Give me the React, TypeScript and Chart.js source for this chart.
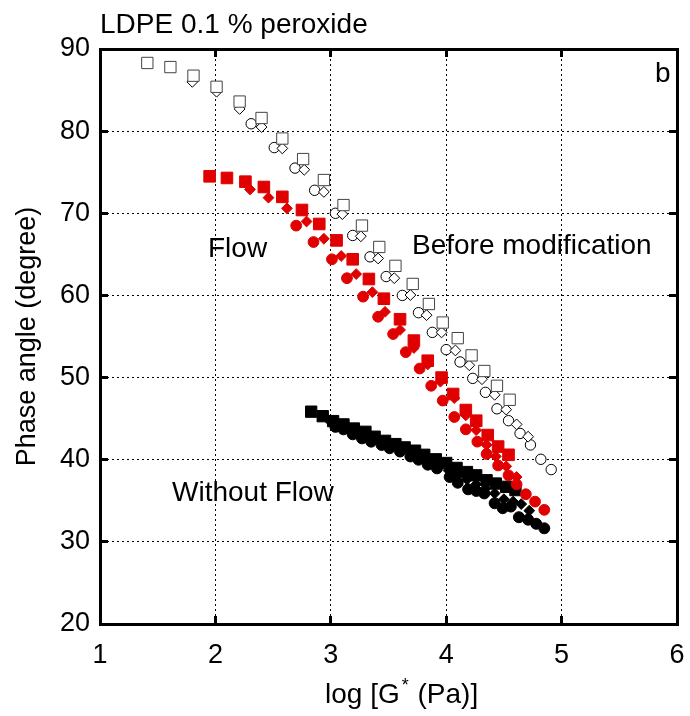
import React, { useEffect, useRef } from "react";
import { Chart, registerables } from "chart.js";

Chart.register(...registerables);

const FONT = "'Liberation Sans', Arial, Helvetica, sans-serif";

// Axis ticks
const xTicks = [1, 2, 3, 4, 5, 6];
const yTicks = [20, 30, 40, 50, 60, 70, 80, 90];

// Before modification (open symbols)
const openSqX = [1.41, 1.61, 1.81, 2.01, 2.21, 2.40, 2.58, 2.76, 2.94, 3.11, 3.27, 3.42, 3.56, 3.71, 3.85, 3.97, 4.10, 4.22, 4.33, 4.44, 4.55];
const openSqY = [88.3, 87.8, 86.75, 85.4, 83.6, 81.6, 79.1, 76.6, 74.05, 71.0, 68.5, 65.9, 63.6, 61.4, 58.96, 56.7, 54.8, 52.7, 50.8, 49.0, 47.3];
const openDiaX = [1.80, 2.01, 2.21, 2.40, 2.58, 2.77, 2.94, 3.10, 3.26, 3.41, 3.55, 3.69, 3.83, 3.96, 4.08, 4.20, 4.31, 4.42, 4.52, 4.61, 4.71];
const openDiaY = [86.0, 84.8, 82.7, 80.5, 77.9, 75.3, 72.6, 69.9, 67.2, 64.5, 62.1, 60.05, 57.6, 55.5, 53.3, 51.5, 49.8, 47.9, 46.1, 44.3, 42.8];
const openCircX = [2.31, 2.51, 2.69, 2.86, 3.04, 3.19, 3.34, 3.48, 3.62, 3.76, 3.88, 4.00, 4.12, 4.23, 4.34, 4.44, 4.54, 4.64, 4.73, 4.82, 4.91];
const openCircY = [80.9, 78.0, 75.5, 72.8, 70.0, 67.3, 64.7, 62.3, 60.0, 57.9, 55.5, 53.4, 51.9, 49.9, 48.2, 46.2, 44.75, 43.2, 41.8, 40.05, 38.8];

// Flow (red symbols)
const redSqX = [1.95, 2.10, 2.26, 2.42, 2.58, 2.75, 2.90, 3.05, 3.19, 3.33, 3.46, 3.60, 3.72, 3.84, 3.96, 4.06, 4.17, 4.26, 4.36, 4.45, 4.54];
const redSqY = [74.5, 74.3, 73.85, 73.2, 72.0, 70.4, 68.7, 66.7, 64.4, 62.0, 59.6, 57.1, 54.5, 52.05, 50.0, 48.0, 46.05, 44.75, 43.0, 41.6, 40.6];
const redDiaX = [2.30, 2.46, 2.62, 2.79, 2.94, 3.09, 3.22, 3.36, 3.47, 3.60, 3.72, 3.84, 3.95, 4.07, 4.17, 4.26, 4.35, 4.43, 4.52, 4.61];
const redDiaY = [72.9, 71.9, 70.6, 69.0, 66.9, 64.8, 62.6, 60.4, 58.0, 55.8, 53.6, 51.6, 49.5, 47.5, 45.4, 43.6, 41.8, 40.4, 39.2, 37.9];
const redCircX = [2.70, 2.85, 3.01, 3.14, 3.28, 3.41, 3.54, 3.65, 3.77, 3.87, 3.97, 4.07, 4.17, 4.27, 4.35, 4.45, 4.54, 4.61, 4.69, 4.77, 4.85];
const redCircY = [68.5, 66.5, 64.4, 62.1, 59.85, 57.4, 55.3, 53.1, 51.1, 49.0, 47.2, 45.2, 43.7, 42.2, 40.7, 39.3, 38.1, 37.0, 35.8, 34.9, 33.9];

// Without flow (black symbols)
const blkSqX = [2.83, 2.93, 3.02, 3.11, 3.20, 3.30, 3.38, 3.47, 3.56, 3.64, 3.73, 3.81, 3.91, 4.00, 4.09, 4.18, 4.26, 4.35, 4.43, 4.52, 4.60];
const blkSqY = [45.85, 45.3, 44.7, 44.3, 43.8, 43.4, 42.8, 42.3, 41.9, 41.5, 41.1, 40.6, 40.05, 39.6, 39.0, 38.5, 38.1, 37.5, 37.1, 36.7, 36.3];
const blkDiaX = [3.00, 3.09, 3.18, 3.27, 3.36, 3.45, 3.54, 3.62, 3.70, 3.78, 3.86, 3.94, 4.02, 4.10, 4.18, 4.26, 4.34, 4.42, 4.50, 4.58, 4.65, 4.72];
const blkDiaY = [44.6, 44.1, 43.6, 43.1, 42.6, 42.1, 41.6, 41.2, 40.7, 40.3, 39.8, 39.3, 38.7, 38.1, 37.6, 37.0, 36.5, 35.9, 35.2, 34.9, 34.6, 33.8];
const blkCircX = [3.04, 3.11, 3.19, 3.27, 3.35, 3.44, 3.51, 3.60, 3.69, 3.76, 3.84, 3.92, 4.03, 4.10, 4.19, 4.26, 4.33, 4.42, 4.49, 4.56, 4.63, 4.71, 4.78, 4.85];
const blkCircY = [44.0, 43.7, 43.1, 42.6, 42.2, 41.8, 41.4, 41.0, 40.4, 40.0, 39.4, 38.95, 37.9, 37.2, 36.4, 36.2, 35.9, 34.7, 34.1, 34.3, 33.0, 32.7, 32.2, 31.65];

const RED = "#e00000";
const TICK_IN = -8;

const pts = (xs: number[], ys: number[]) => xs.map((x, i) => ({ x, y: ys[i] }));

const textPlugin = {
  id: "annotText",
  afterDraw(chart: any) {
    const { ctx } = chart;
    ctx.save();
    ctx.fillStyle = "#000";
    ctx.textBaseline = "alphabetic";
    ctx.textAlign = "left";
    ctx.font = `28px ${FONT}`;
    ctx.fillText("LDPE 0.1 % peroxide", 100, 33);
    ctx.fillText("b", 655, 82);
    ctx.fillText("Flow", 208, 257);
    ctx.fillText("Before modification", 412, 254);
    ctx.fillText("Without Flow", 172, 501);

    // x-axis title with superscript
    let x = 325;
    const base = 703;
    const a = "log [G";
    ctx.fillText(a, x, base);
    x += ctx.measureText(a).width;
    ctx.font = `18px ${FONT}`;
    ctx.fillText("*", x + 2, base - 12);
    x += ctx.measureText("*").width + 3;
    ctx.font = `28px ${FONT}`;
    ctx.fillText(" (Pa)]", x, base);
    ctx.restore();
  },
};

const gridOpts = {
  color: "#000",
  lineWidth: 1,
  drawTicks: true,
  tickLength: TICK_IN,
  tickWidth: 3,
  tickColor: "#000",
  tickBorderDash: [],
};
const sideGrid = { ...gridOpts, drawOnChartArea: false };
const frameBorder = { display: true, width: 3, color: "#000", dash: [2, 3] };

export default function App() {
  const ref = useRef<HTMLCanvasElement | null>(null);
  useEffect(() => {
    document.body.style.margin = "0";
    const canvas = ref.current!;
    const common = { showLine: false, borderWidth: 1 };
    const chart = new Chart(canvas, {
      type: "scatter",
      data: {
        datasets: [
          { ...common, label: "Before sq", data: pts(openSqX, openSqY), pointStyle: "rect", pointRadius: 8, backgroundColor: "#fff", borderColor: "#444" },
          { ...common, label: "Before dia", data: pts(openDiaX, openDiaY), pointStyle: "rectRot", pointRadius: 5.4, backgroundColor: "#fff", borderColor: "#000" },
          { ...common, label: "Before circ", data: pts(openCircX, openCircY), pointStyle: "circle", pointRadius: 5.2, backgroundColor: "#fff", borderColor: "#000" },
          { ...common, label: "Flow sq", data: pts(redSqX, redSqY), pointStyle: "rect", pointRadius: 8.2, backgroundColor: RED, borderColor: RED },
          { ...common, label: "Flow dia", data: pts(redDiaX, redDiaY), pointStyle: "rectRot", pointRadius: 5.4, backgroundColor: RED, borderColor: RED },
          { ...common, label: "Flow circ", data: pts(redCircX, redCircY), pointStyle: "circle", pointRadius: 5.4, backgroundColor: RED, borderColor: RED },
          { ...common, label: "No flow sq", data: pts(blkSqX, blkSqY), pointStyle: "rect", pointRadius: 8, backgroundColor: "#000", borderColor: "#000" },
          { ...common, label: "No flow dia", data: pts(blkDiaX, blkDiaY), pointStyle: "rectRot", pointRadius: 5.4, backgroundColor: "#000", borderColor: "#000" },
          { ...common, label: "No flow circ", data: pts(blkCircX, blkCircY), pointStyle: "circle", pointRadius: 5.5, backgroundColor: "#000", borderColor: "#000" },
        ],
      },
      options: {
        responsive: false,
        animation: false,
        devicePixelRatio: 1,
        layout: { padding: 0 },
        plugins: { legend: { display: false }, tooltip: { enabled: false } },
        scales: {
          x: {
            type: "linear",
            position: "bottom",
            min: 1,
            max: 6,
            afterBuildTicks: (s: any) => { s.ticks = xTicks.map((v) => ({ value: v })); },
            afterFit: (s: any) => { s.height = 92; s.paddingLeft = 0; s.paddingRight = 0; },
            ticks: { font: { family: FONT, size: 27 }, color: "#000", padding: 15 - TICK_IN, maxRotation: 0 },
            grid: gridOpts,
            border: frameBorder,
          },
          x2: {
            type: "linear",
            position: "top",
            min: 1,
            max: 6,
            afterBuildTicks: (s: any) => { s.ticks = xTicks.map((v) => ({ value: v })); },
            afterFit: (s: any) => { s.height = 49; s.paddingLeft = 0; s.paddingRight = 0; },
            ticks: { display: false },
            grid: sideGrid,
            border: frameBorder,
          },
          y: {
            type: "linear",
            position: "left",
            min: 20,
            max: 90,
            afterBuildTicks: (s: any) => { s.ticks = yTicks.map((v) => ({ value: v })); },
            afterFit: (s: any) => { s.width = 100; s.paddingTop = 0; s.paddingBottom = 0; },
            ticks: { font: { family: FONT, size: 27 }, color: "#000", padding: 10 - TICK_IN },
            grid: gridOpts,
            border: frameBorder,
            title: {
              display: true,
              text: "Phase angle (degree)",
              color: "#000",
              font: { family: FONT, size: 27 },
              padding: { top: 11, bottom: 0 },
            },
          },
          y2: {
            type: "linear",
            position: "right",
            min: 20,
            max: 90,
            afterBuildTicks: (s: any) => { s.ticks = yTicks.map((v) => ({ value: v })); },
            afterFit: (s: any) => { s.width = 13; s.paddingTop = 0; s.paddingBottom = 0; },
            ticks: { display: false },
            grid: sideGrid,
            border: frameBorder,
          },
        },
      },
      plugins: [textPlugin],
    });
    return () => chart.destroy();
  }, []);
  return <canvas ref={ref} width={690} height={716} style={{ display: "block" }} />;
}
